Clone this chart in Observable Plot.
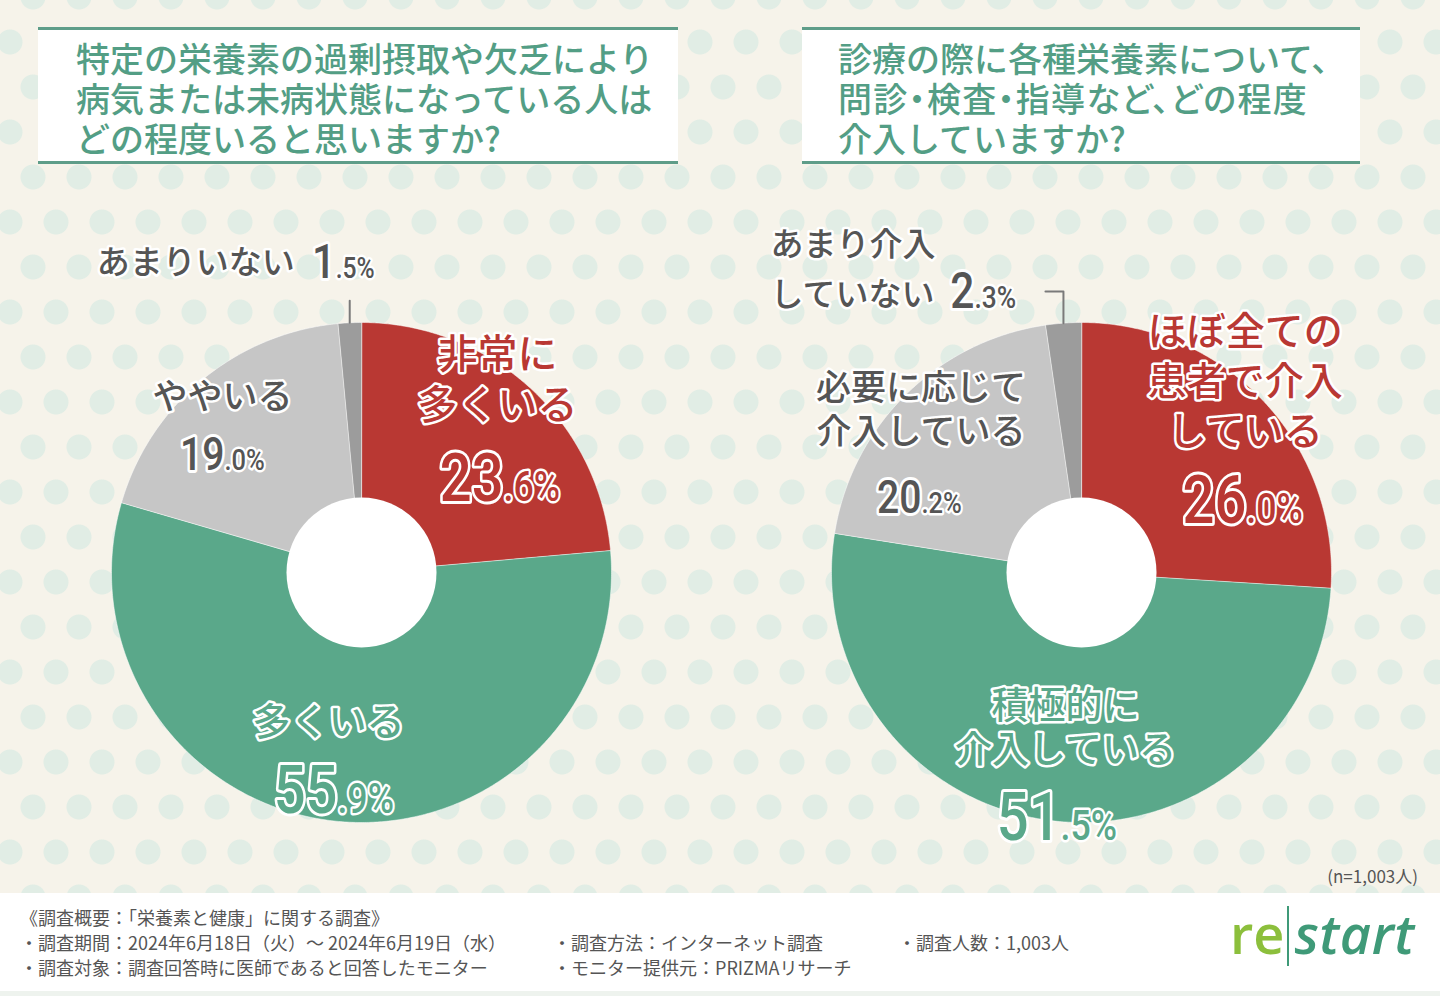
<!DOCTYPE html>
<html lang="ja">
<head>
<meta charset="utf-8">
<script src="https://cdn.jsdelivr.net/npm/d3@7"></script>
<script src="https://cdn.jsdelivr.net/npm/@observablehq/plot@0.6"></script>
<style>
  html, body { margin: 0; padding: 0; }
  #page {
    position: relative; width: 1440px; height: 996px; overflow: hidden;
    background-color: #f6f3ea;
    background-image:
      radial-gradient(circle, #e1ede5 12px, rgba(225,237,229,0) 13px),
      radial-gradient(circle, #e1ede5 12px, rgba(225,237,229,0) 13px);
    background-size: 46px 90px, 46px 90px;
    background-position: 10px 42px, -13px -3px;
    font-family: "Noto Sans CJK JP", "Noto Sans", sans-serif;
  }
  .tbox {
    position: absolute; top: 27px; height: 137px; box-sizing: border-box;
    background: #fff; border-top: 3px solid #5e9d89; border-bottom: 3px solid #5e9d89;
    color: #539e85; font-size: 34px; line-height: 40px; font-weight: 500;
    padding-top: 8px; white-space: nowrap;
  }
  .tbox span { display: block; height: 40px; line-height: 40px; overflow: visible; }
  .tbox span.tight { font-feature-settings: "palt"; letter-spacing: 1.3px; }
  #chart { position: absolute; left: 0; top: 0; }
  #n { position: absolute; right: 22px; top: 864px; font-size: 17px; color: #555; line-height: 24px; }
  #footer {
    position: absolute; left: 0; top: 893px; width: 1440px; height: 98px; background: #fff;
    border-bottom: 5px solid #eef3ee;
    color: #555; font-size: 18px; line-height: 24.5px;
  }
  .fl { position: absolute; white-space: nowrap; }
  #logo { position: absolute; left: 1230px; top: 898px; height: 72px; white-space: nowrap;
    font-family: "Open Sans", "DejaVu Sans", sans-serif; font-size: 54px; line-height: 70px; font-weight: 600; }
  #logo .re { color: #8cbf3c; }
  #logo .bar { display: inline-block; width: 2px; height: 60px; background: #3f9a78; vertical-align: -12px; margin: 0 5px 0 3px; }
  #logo .st { color: #3f9a78; font-style: italic; letter-spacing: 0.5px; }
</style>
</head>
<body>
<div id="page">
  <div class="tbox" id="t1" style="left:38px;width:640px;padding-left:38px;"></div>
  <div class="tbox" id="t2" style="left:802px;width:558px;padding-left:36px;"></div>
  <div id="chart"></div>
  <div id="n"></div>
  <div id="footer"></div>
  <div id="logo"><span class="re">re</span><span class="bar"></span><span class="st">start</span></div>
</div>
<script>
// ---------------- data ----------------
const leftTitle = ["特定の栄養素の過剰摂取や欠乏により", "病気または未病状態になっている人は", "どの程度いると思いますか?"];
const rightTitle = ["診療の際に各種栄養素について、", "問診・検査・指導など、どの程度", "介入していますか?"];

const levels = ["最も多い", "多い", "やや", "少ない"];
const levelColors = ["#b93833", "#5aa88a", "#c6c6c6", "#9c9c9c"];

const leftCategories = ["非常に多くいる", "多くいる", "ややいる", "あまりいない"];
const leftValues = [23.6, 55.9, 19.0, 1.5];
const leftLabelLines = [["非常に", "多くいる"], ["多くいる"], ["ややいる"], ["あまりいない"]];

const rightCategories = ["ほぼ全ての患者で介入している", "積極的に介入している", "必要に応じて介入している", "あまり介入していない"];
const rightValues = [26.0, 51.5, 20.2, 2.3];
const rightLabelLines = [["ほぼ全ての", "患者で介入", "している"], ["積極的に", "介入している"], ["必要に応じて", "介入している"], ["あまり介入", "していない"]];

const sampleNote = "(n=1,003人)";
const footerHeading = "《調査概要：「栄養素と健康」に関する調査》";
const footerCol1 = ["・調査期間：2024年6月18日（火）～ 2024年6月19日（水）", "・調査対象：調査回答時に医師であると回答したモニター"];
const footerCol2 = ["・調査方法：インターネット調査", "・モニター提供元：PRIZMAリサーチ"];
const footerCol3 = ["・調査人数：1,003人"];

// ---------------- page text ----------------
function titleHTML(lines, tightLines) {
  return lines.map((l, i) => tightLines.includes(i) ? `<span class="tight">${l}</span>` : `<span>${l}</span>`).join("");
}
document.getElementById("t1").innerHTML = titleHTML(leftTitle, []);
document.getElementById("t2").innerHTML = titleHTML(rightTitle, [1]);
document.getElementById("n").textContent = sampleNote;
const footer = document.getElementById("footer");
function fline(txt, left, top) {
  const d = document.createElement("div"); d.className = "fl"; d.textContent = txt;
  d.style.left = left + "px"; d.style.top = top + "px"; footer.appendChild(d);
}
fline(footerHeading, 20, 12);
footerCol1.forEach((t, i) => fline(t, 20, 37 + i * 24.5));
footerCol2.forEach((t, i) => fline(t, 553, 37 + i * 24.5));
footerCol3.forEach((t, i) => fline(t, 898, 37 + i * 24.5));

// ---------------- layout (positions / styles) ----------------
const DARK = "#555555";
const JP = "Noto Sans CJK JP";
const NUM = "Roboto, sans-serif";
const NUM_SQUEEZE = 0.85;
const charts = [
  { cats: leftCategories, values: leftValues, lines: leftLabelLines, cx: 361, cy: 572, r: 250, hole: 75,
    place: [
      { tx: 1, ty: -69.5, step: 51, fs: 40, nx: 7, ny: 76, ifs: 66, dfs: 42, fill: levelColors[0] },
      { tx: -13.6, ty: -49, step: 0, fs: 38, nx: -4.6, ny: 41, ifs: 66, dfs: 42, fill: levelColors[1] },
      { tx: -11.5, ty: -21, step: 0, fs: 35, nx: -9.5, ny: 52, ifs: 46, dfs: 30, fill: DARK },
      { outside: true, tx: -55, ty: -59, step: 0, fs: 33, anchor: "end", nx: -14, ny: -45, ifs: 49, dfs: 29, fill: DARK,
        leader: [[0, 0], [0, -22]] }
    ] },
  { cats: rightCategories, values: rightValues, lines: rightLabelLines, cx: 1081, cy: 572, r: 250, hole: 75,
    place: [
      { tx: 18, ty: -103, step: 50, fs: 39, nx: 19, ny: 87, ifs: 66, dfs: 42, fill: levelColors[0] },
      { tx: 6, ty: -64, step: 44, fs: 37, nx: 1, ny: 69, ifs: 66, dfs: 42, fill: levelColors[1] },
      { tx: -20, ty: -41, step: 44, fs: 35, nx: -19.5, ny: 83, ifs: 46, dfs: 30, fill: DARK },
      { outside: true, tx: -293, ty: -77.6, step: 50, fs: 33, anchor: "start", nx: -89, ny: -15, ifs: 50, dfs: 31, fill: DARK,
        leader: [[0, 0], [0, -31.6], [-18, -31.6]] }
    ] }
];

// ---------------- build marks ----------------
const pie = d3.pie().sort(null).value(d => d);
const fmt = d3.format(".1f");
const slices = [], holes = [], leaders = [], textMarks = [];

function addText(x, y, text, o) {
  textMarks.push(Plot.text([{x, y, text}], {
    x: "x", y: "y", text: "text",
    fontSize: o.fs, fontFamily: o.family || JP, fontWeight: o.weight || 500,
    textAnchor: o.anchor || "middle", lineAnchor: o.lineAnchor || "middle",
    fill: o.fill, stroke: "white", strokeWidth: o.sw || 5, strokeLinejoin: "round", paintOrder: "stroke"
  }));
}

for (const ch of charts) {
  const arcs = pie(ch.values);
  arcs.forEach((a, i) => {
    const ring = [[ch.cx, ch.cy]];
    const n = Math.max(2, Math.ceil((a.endAngle - a.startAngle) / (Math.PI / 360)));
    for (let j = 0; j <= n; j++) {
      const t = a.startAngle + (a.endAngle - a.startAngle) * j / n;
      ring.push([ch.cx + ch.r * Math.sin(t), ch.cy - ch.r * Math.cos(t)]);
    }
    ring.push([ch.cx, ch.cy]);
    slices.push({ type: "Feature", properties: { level: levels[i], category: ch.cats[i], value: ch.values[i] },
      geometry: { type: "Polygon", coordinates: [ring] } });

    const p = ch.place[i];
    const mid = (a.startAngle + a.endAngle) / 2;
    const k = p.outside ? 1 : 0.8;
    const ax = ch.cx + k * ch.r * Math.sin(mid), ay = ch.cy - k * ch.r * Math.cos(mid);
    if (p.leader) {
      leaders.push({ type: "Feature", properties: {},
        geometry: { type: "LineString", coordinates: p.leader.map(([dx, dy]) => [ax + dx, ay + dy]) } });
    }
    ch.lines[i].forEach((line, j) => {
      addText(ax + p.tx, ay + p.ty + j * p.step, line, { fs: p.fs, fill: p.fill, anchor: p.anchor || "middle", sw: 5 });
    });
    const v = ch.values[i];
    const intPart = String(Math.trunc(v));
    const decPart = fmt(v).slice(intPart.length) + "%";
    addText(ax + p.nx, ay + p.ny, intPart, { fs: p.ifs, fill: p.fill, anchor: "end", lineAnchor: "bottom", family: NUM, weight: 500, sw: 6 });
    addText(ax + p.nx, ay + p.ny, decPart, { fs: p.dfs, fill: p.fill, anchor: "start", lineAnchor: "bottom", family: NUM, weight: 500, sw: 5 });
  });
  holes.push({ x: ch.cx, y: ch.cy });
}

const plot = Plot.plot({
  width: 1440, height: 893,
  margin: 0,
  projection: { type: "identity" },
  color: { type: "ordinal", domain: levels, range: levelColors },
  style: { background: "transparent", overflow: "visible" },
  marks: [
    Plot.geo(slices, { fill: d => d.properties.level, stroke: "#ffffff", strokeWidth: 1, strokeOpacity: 0.5 }),
    Plot.dot(holes, { x: "x", y: "y", r: charts[0].hole, fill: "white", stroke: "none" }),
    Plot.geo(leaders, { fill: "none", stroke: "#7a7a7a", strokeWidth: 2 }),
    ...textMarks
  ]
});

// condense the numeric labels horizontally (narrow numerals as in the original)
for (const t of plot.querySelectorAll('g[font-family^="Roboto"] text')) {
  const x = +(t.getAttribute("x") || 0), y = +(t.getAttribute("y") || 0);
  t.removeAttribute("x"); t.removeAttribute("y");
  const tr = t.getAttribute("transform") || "";
  t.setAttribute("transform", `${tr} translate(${x},${y}) scale(${NUM_SQUEEZE},1)`);
}
document.getElementById("chart").appendChild(plot);
</script>
</body>
</html>
